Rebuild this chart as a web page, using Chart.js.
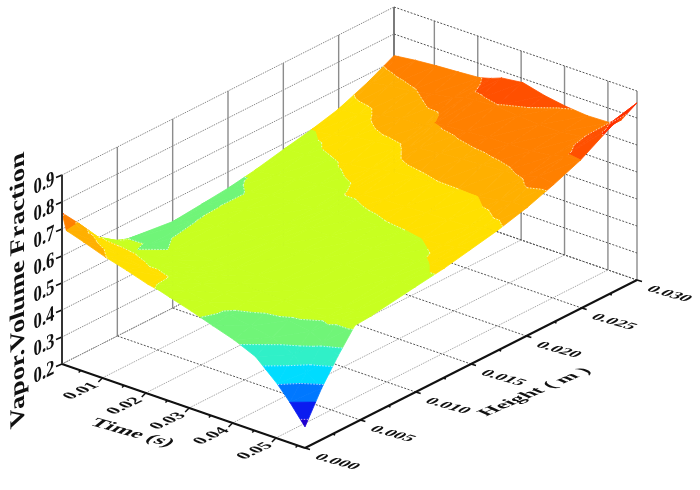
<!DOCTYPE html>
<html>
<head>
<meta charset="utf-8">
<title>Vapor Volume Fraction</title>
<script src="https://cdn.jsdelivr.net/npm/chart.js@4"></script>
<style>
    html, body { margin: 0; padding: 0; background: #fff; overflow: hidden; }
    canvas { display: block; }
</style>
</head>
<body>
<canvas id="surfaceChart" width="700" height="490"></canvas>
<script>
// ============== DATA ==============

const timeValues = [0.0007, 0.0017, 0.0056, 0.0106, 0.0155, 0.0205, 0.0231, 0.0255, 0.0304, 0.0354, 0.0403, 0.0453, 0.0503, 0.0532, 0.0567];
const heightValues = [0, 0.0015, 0.003, 0.0045, 0.006, 0.01, 0.0126, 0.015, 0.0174, 0.0201, 0.0225, 0.0249, 0.0276, 0.03];

// one row per time, one column per height
const vaporFraction = [
    [0.760, 0.690, 0.610, 0.560, 0.540, 0.520, 0.530, 0.540, 0.556, 0.580, 0.600, 0.625, 0.670, 0.720],
    [0.700, 0.668, 0.610, 0.570, 0.545, 0.525, 0.535, 0.545, 0.556, 0.580, 0.600, 0.630, 0.675, 0.722],
    [0.680, 0.645, 0.605, 0.552, 0.545, 0.549, 0.552, 0.552, 0.565, 0.585, 0.610, 0.635, 0.685, 0.730],
    [0.652, 0.625, 0.597, 0.556, 0.551, 0.560, 0.567, 0.570, 0.580, 0.595, 0.630, 0.660, 0.695, 0.737],
    [0.630, 0.610, 0.585, 0.570, 0.565, 0.565, 0.568, 0.572, 0.585, 0.605, 0.640, 0.675, 0.710, 0.742],
    [0.605, 0.603, 0.585, 0.570, 0.570, 0.570, 0.572, 0.578, 0.592, 0.615, 0.645, 0.677, 0.725, 0.748],
    [0.597, 0.590, 0.580, 0.570, 0.570, 0.571, 0.575, 0.585, 0.605, 0.628, 0.658, 0.700, 0.740, 0.760],
    [0.585, 0.580, 0.575, 0.570, 0.570, 0.572, 0.577, 0.585, 0.605, 0.635, 0.670, 0.705, 0.742, 0.775],
    [0.562, 0.563, 0.565, 0.568, 0.570, 0.575, 0.580, 0.590, 0.612, 0.640, 0.680, 0.710, 0.748, 0.785],
    [0.535, 0.545, 0.560, 0.568, 0.570, 0.578, 0.583, 0.595, 0.615, 0.647, 0.685, 0.715, 0.740, 0.765],
    [0.510, 0.530, 0.553, 0.562, 0.568, 0.580, 0.587, 0.597, 0.618, 0.648, 0.690, 0.717, 0.735, 0.752],
    [0.475, 0.515, 0.548, 0.556, 0.565, 0.580, 0.590, 0.600, 0.620, 0.650, 0.695, 0.720, 0.735, 0.745],
    [0.402, 0.480, 0.535, 0.555, 0.560, 0.585, 0.595, 0.605, 0.625, 0.665, 0.705, 0.730, 0.745, 0.748],
    [0.350, 0.430, 0.510, 0.560, 0.565, 0.590, 0.600, 0.615, 0.635, 0.675, 0.720, 0.745, 0.770, 0.775],
    [0.278, 0.390, 0.480, 0.560, 0.565, 0.590, 0.605, 0.625, 0.645, 0.675, 0.710, 0.750, 0.815, 0.856]
];

const bandLevels = [0, 0.30, 0.35, 0.40, 0.45, 0.50, 0.55, 0.60, 0.65, 0.70, 0.75, 0.80, 1];
const bandColors = ['#2000d0', '#0a1cf0', '#0078ff', '#00dcff', '#30f0c8', '#70f578', '#c8ff20', '#ffe000', '#ffb000', '#ff8000', '#ff5000', '#ff3000'];

const timeTicks = ['0.01', '0.02', '0.03', '0.04', '0.05'];
const timeMinorTicks = [0.005, 0.015, 0.025, 0.035, 0.045, 0.055];
const heightTicks = ['0.000', '0.005', '0.010', '0.015', '0.020', '0.025', '0.030'];
const heightMinorTicks = [0.0025, 0.0075, 0.0125, 0.0175, 0.0225, 0.0275];
const fractionTicks = ['0.2', '0.3', '0.4', '0.5', '0.6', '0.7', '0.8', '0.9'];

const timeTitle = 'Time (s)';
const heightTitle = 'Height ( m )';
const fractionTitle = 'Vapor.Volume Fraction';

// ============== BOX PROJECTION ==============

const TIME_MIN = 0.0007, TIME_MAX = 0.0567;
const HEIGHT_MAX = 0.03;
const FRACTION_MIN = 0.2, FRACTION_MAX = 0.9;

function project(time, height, fraction) {
    const a = (time - TIME_MIN) / (TIME_MAX - TIME_MIN);
    const b = height / HEIGHT_MAX;
    const c = (fraction - FRACTION_MIN) / (FRACTION_MAX - FRACTION_MIN);
    return {
        x: 62 + 243 * a + 332 * b,
        y: 364 + 84 * a - 168 * b - 189 * c
    };
}

// ============== SURFACE BANDS ==============

// cut a polygon on fraction = level, keep the side given by sign
function clipPolygon(poly, level, sign) {
    const out = [];
    for (let i = 0; i < poly.length; i++) {
        const p = poly[i], q = poly[(i + 1) % poly.length];
        const dp = sign * (p[2] - level), dq = sign * (q[2] - level);
        if (dp >= 0) out.push(p);
        if ((dp > 0 && dq < 0) || (dp < 0 && dq > 0)) {
            const k = dp / (dp - dq);
            out.push([p[0] + (q[0] - p[0]) * k, p[1] + (q[1] - p[1]) * k, level]);
        }
    }
    return out;
}

function contourSegment(tri, level) {
    const hits = [];
    for (let i = 0; i < 3; i++) {
        const p = tri[i], q = tri[(i + 1) % 3];
        if ((p[2] - level) * (q[2] - level) < 0) {
            const k = (level - p[2]) / (q[2] - p[2]);
            hits.push(project(p[0] + (q[0] - p[0]) * k, p[1] + (q[1] - p[1]) * k, level));
        }
    }
    return hits.length === 2 ? hits : null;
}

function buildSurface() {
    const polygons = [];
    const contours = bandLevels.slice(1, -1).map(() => []);

    // front cells first: the first dataset is painted last
    for (let i = timeValues.length - 2; i >= 0; i--) {
        for (let j = 0; j < heightValues.length - 1; j++) {
            const corner = (ti, hj) => [timeValues[ti], heightValues[hj], vaporFraction[ti][hj]];
            const triangles = [
                [corner(i + 1, j), corner(i + 1, j + 1), corner(i, j)],
                [corner(i + 1, j + 1), corner(i, j + 1), corner(i, j)]
            ];
            triangles.forEach(tri => {
                bandColors.forEach((color, n) => {
                    let poly = clipPolygon(tri, bandLevels[n], 1);
                    if (poly.length) poly = clipPolygon(poly, bandLevels[n + 1], -1);
                    if (poly.length < 3) return;
                    const data = poly.map(p => project(p[0], p[1], p[2]));
                    data.push(data[0]);
                    polygons.push({
                        data: data,
                        showLine: true,
                        fill: 'shape',
                        backgroundColor: color,
                        borderColor: color,
                        borderWidth: 0.8,
                        pointRadius: 0,
                        clip: false
                    });
                });
                contours.forEach((points, n) => {
                    const seg = contourSegment(tri, bandLevels[n + 1]);
                    if (seg) points.push(seg[0], seg[1], { x: null, y: null });
                });
            });
        }
    }

    const contourSets = contours.map(points => ({
        data: points,
        showLine: true,
        spanGaps: false,
        borderColor: 'rgba(255,255,255,0.85)',
        borderWidth: 0.8,
        borderDash: [1.5, 1.5],
        pointRadius: 0,
        clip: false
    }));
    return contourSets.concat(polygons);
}

// ============== BOX, GRID AND AXES ==============

function lineSet(p, q, color, width, dash) {
    return {
        data: [p, q],
        showLine: true,
        borderColor: color,
        borderWidth: width,
        borderDash: dash || [],
        pointRadius: 0,
        clip: false
    };
}

function buildGrid() {
    const sets = [];
    const wallColor = '#8c8c8c';
    const faintDash = [1.5, 1];
    const darkDash = [2, 1.5];

    fractionTicks.forEach(label => {
        const z = Number(label);
        // left wall and back wall
        sets.push(lineSet(project(TIME_MIN, 0, z), project(TIME_MIN, HEIGHT_MAX, z), '#8a8a8a', 1, faintDash));
        sets.push(lineSet(project(TIME_MIN, HEIGHT_MAX, z), project(TIME_MAX, HEIGHT_MAX, z), '#555555', 1, darkDash));
    });

    heightTicks.forEach(label => {
        const h = Number(label);
        // floor line running along the time axis, post on the left wall
        sets.push(lineSet(project(TIME_MIN, h, FRACTION_MIN), project(TIME_MAX, h, FRACTION_MIN), '#555555', 1, darkDash));
        if (h > 0) {
            sets.push(lineSet(project(TIME_MIN, h, FRACTION_MIN), project(TIME_MIN, h, FRACTION_MAX), h === HEIGHT_MAX ? '#444444' : wallColor, 1.4));
        }
    });

    timeTicks.forEach(label => {
        const t = Number(label);
        // floor line running along the height axis, post on the back wall
        sets.push(lineSet(project(t, 0, FRACTION_MIN), project(t, HEIGHT_MAX, FRACTION_MIN), '#a8a8a8', 1, faintDash));
        sets.push(lineSet(project(t, HEIGHT_MAX, FRACTION_MIN), project(t, HEIGHT_MAX, FRACTION_MAX), wallColor, 1.4));
    });

    sets.push(lineSet(project(TIME_MAX, HEIGHT_MAX, FRACTION_MIN), project(TIME_MAX, HEIGHT_MAX, FRACTION_MAX), wallColor, 1.4));
    sets.push(lineSet(project(TIME_MIN, 0, FRACTION_MIN), project(TIME_MIN, HEIGHT_MAX, FRACTION_MIN), '#777777', 1, faintDash));
    return sets;
}

function tickSet(p, dx, dy) {
    return lineSet(p, { x: p.x + dx, y: p.y + dy }, '#111111', 1.5);
}

function buildAxes() {
    const sets = [];
    const axisColor = '#111111';
    sets.push(lineSet(project(TIME_MIN, 0, FRACTION_MIN), project(TIME_MIN, 0, FRACTION_MAX), '#333333', 2));
    sets.push(lineSet(project(TIME_MIN, 0, FRACTION_MIN), project(TIME_MAX, 0, FRACTION_MIN), axisColor, 2));
    sets.push(lineSet(project(TIME_MAX, 0, FRACTION_MIN), project(TIME_MAX, HEIGHT_MAX, FRACTION_MIN), axisColor, 2));

    fractionTicks.forEach(label => sets.push(tickSet(project(TIME_MIN, 0, Number(label)), -6, 2.5)));
    timeTicks.forEach(label => sets.push(tickSet(project(Number(label), 0, FRACTION_MIN), -4, 4)));
    timeMinorTicks.forEach(t => sets.push(tickSet(project(t, 0, FRACTION_MIN), -2, 2)));
    heightTicks.forEach(label => sets.push(tickSet(project(TIME_MAX, Number(label), FRACTION_MIN), 5, 1.5)));
    heightMinorTicks.forEach(h => sets.push(tickSet(project(TIME_MAX, h, FRACTION_MIN), 2.5, 1)));
    return sets;
}

// ============== AXIS TEXT LYING IN THE BOX PLANES ==============

function drawPlaneText(chart, text, at, basisX, basisY, size) {
    const ctx = chart.ctx;
    ctx.save();
    ctx.transform(basisX[0], basisX[1], basisY[0], basisY[1],
        chart.scales.x.getPixelForValue(at.x), chart.scales.y.getPixelForValue(at.y));
    ctx.font = 'bold ' + size + 'px "Liberation Serif"';
    ctx.fillStyle = '#111111';
    ctx.textAlign = 'center';
    ctx.textBaseline = 'middle';
    ctx.fillText(text, 0, 0);
    ctx.restore();
}

const planeTextPlugin = {
    id: 'planeText',
    afterDraw(chart) {
        fractionTicks.forEach(label => {
            const p = project(TIME_MIN, 0, Number(label));
            drawPlaneText(chart, label, { x: p.x - 18, y: p.y + 9 }, [1.05, -0.5], [0, 1.35], 16);
        });
        timeTicks.forEach(label => {
            const p = project(Number(label), 0, FRACTION_MIN);
            drawPlaneText(chart, label, { x: p.x - 21, y: p.y + 13 }, [1.05, -0.5], [0.95, 0.42], 16);
        });
        heightTicks.forEach(label => {
            const p = project(TIME_MAX, Number(label), FRACTION_MIN);
            drawPlaneText(chart, label, { x: p.x + 32, y: p.y + 14 }, [1.14, 0.32], [-0.8, 0.5], 16);
        });
        drawPlaneText(chart, fractionTitle, { x: 19, y: 290 }, [0, -1.72], [1.3, -0.45], 16);
        drawPlaneText(chart, timeTitle, { x: 132, y: 433 }, [1.42, 0.4], [-0.85, 0.65], 16);
        drawPlaneText(chart, heightTitle, { x: 535, y: 392 }, [1.29, -0.55], [1.0, 0.45], 16);
    }
};

// ============== CHART ==============

function initSurfaceChart() {
    const canvas = document.getElementById('surfaceChart');
    return new Chart(canvas.getContext('2d'), {
        type: 'scatter',
        data: { datasets: buildAxes().concat(buildSurface(), buildGrid()) },
        options: {
            responsive: false,
            animation: false,
            events: [],
            layout: { padding: 0 },
            plugins: { legend: { display: false }, tooltip: { enabled: false } },
            scales: {
                x: { type: 'linear', display: false, min: 0, max: 700 },
                y: { type: 'linear', display: false, min: 0, max: 490, reverse: true }
            }
        },
        plugins: [planeTextPlugin]
    });
}

initSurfaceChart();
</script>
</body>
</html>
